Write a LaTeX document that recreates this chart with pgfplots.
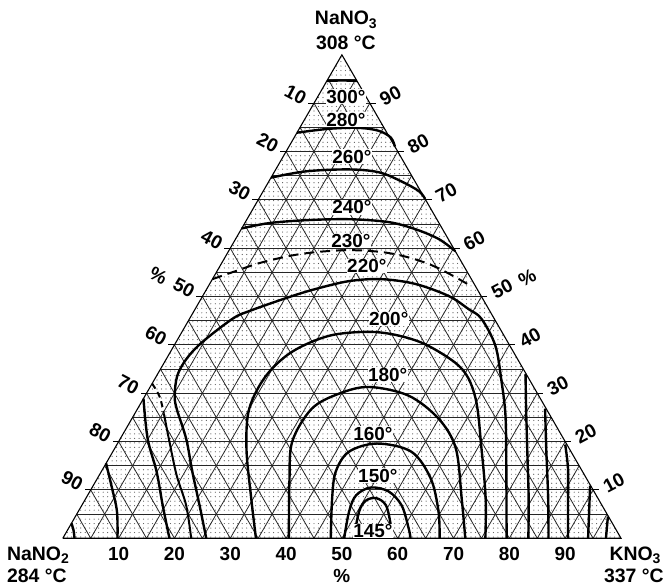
\documentclass[border=0pt]{standalone}
\usepackage{fontspec}
\setmainfont{Liberation Sans}
\usepackage{pgfplots}
\pgfplotsset{compat=1.18}
\usepackage{pgfplotstable}
\usetikzlibrary{patterns.meta}

\tikzdeclarepattern{
  name=stipple,
  type=uncolored,
  bounding box={(-2.25pt,-2.25pt) and (2.25pt,2.25pt)},
  tile size={(4.5pt,4.5pt)},
  code={\fill (0pt,0pt) circle (0.6pt);}
}

\newcommand\lab{\fontsize{19}{20}\selectfont\bfseries}
\newcommand\ilab{\fontsize{19}{20}\selectfont\bfseries}
\newcommand\vlab{\fontsize{19.5}{21}\selectfont\bfseries}
\newcommand\sub[1]{\raisebox{-0.35ex}{\fontsize{14}{14}\selectfont #1}}

% compositions: K = % KNO3, N = % NaNO3 (NaNO2 = 100 - K - N)
\pgfplotstableread[row sep=\\]{K N\\ 0 0\\ 100 0\\ 0 100\\ 0 0\\}\tri
\pgfplotstableread[row sep=\\]{K N\\ 0 94.6\\ 2.7 94.7\\ 5.4 94.6\\}\tA
\pgfplotstableread[row sep=\\]{K N\\ 0 83.9\\ 5.3 84.7\\ 10.5 84.9\\ 14.4 84.3\\ 17.3 82.9\\ 19.0 81.0\\}\tB
\pgfplotstableread[row sep=\\]{K N\\ 0 74.6\\ 5.6 75.9\\ 13.1 76.3\\ 18.8 75.7\\ 23.8 73.8\\ 27.9 71.8\\ 29.8 70.2\\}\tC
\pgfplotstableread[row sep=\\]{K N\\ 0 64.1\\ 4.4 65.2\\ 10.7 65.8\\ 18.3 66.0\\ 25.7 65.4\\ 31.3 63.9\\ 36.4 61.9\\ 40.6 59.4\\}\tD
\pgfplotstableread[row sep=\\]{K N\\ 0 53.6\\ 3.4 55.3\\ 6.7 56.9\\ 11.4 58.4\\ 15.8 59.2\\ 21.5 59.6\\ 27.6 59.2\\ 32.9 58.1\\ 37.8 56.5\\ 42.1 54.6\\ 47.0 52.2\\}\tE
\pgfplotstableread[row sep=\\]{K N\\ 25.7 0\\ 21.1 6.8\\ 16.3 13.8\\ 11.8 20.6\\ 7.0 26.8\\ 5.3 29.5\\ 3.7 33.6\\ 3.6 37.1\\ 4.7 40.6\\ 7.7 45.4\\ 9.9 47.0\\ 15.6 49.9\\ 19.6 51.6\\ 24.7 53.2\\ 30.3 53.6\\ 36.9 52.6\\ 44.1 50.1\\ 49.0 47.4\\ 52.3 45.4\\ 57.6 39.8\\ 62.4 32.4\\ 66.6 25.4\\ 71.9 15.1\\ 79.5 0\\}\tF
\pgfplotstableread[row sep=\\]{K N\\ 34.6 0\\ 29.6 8.3\\ 23.6 18.6\\ 20.0 26.8\\ 19.6 33.6\\ 21.8 38.6\\ 26.8 41.9\\ 33.5 42.7\\ 39.3 41.9\\ 45.6 39.8\\ 53.9 35.1\\ 59.5 28.9\\ 65.7 18.6\\ 71.6 8.3\\ 75.7 0\\}\tG
\pgfplotstableread[row sep=\\]{K N\\ 40.5 0\\ 34.7 11.8\\ 31.1 20.0\\ 31.2 26.8\\ 34.5 29.9\\ 39.2 31.3\\ 47.2 29.5\\ 55.0 24.7\\ 61.1 18.6\\ 67.3 8.3\\ 72.1 0\\}\tH
\pgfplotstableread[row sep=\\]{K N\\ 48.0 0\\ 44.1 8.3\\ 42.0 13.8\\ 42.3 17.9\\ 46.5 19.6\\ 53.5 17.9\\ 59.7 12.4\\ 64.5 5.6\\ 67.5 0\\}\tI
\pgfplotstableread[row sep=\\]{K N\\ 50.4 0\\ 48.5 5.6\\ 48.1 8.9\\ 49.9 10.5\\ 53.5 9.7\\ 57.3 6.8\\ 60.9 2.1\\ 62.3 0\\}\tJ
\pgfplotstableread[row sep=\\]{K N\\ 52.1 0\\ 50.3 5.6\\ 50.4 7.8\\ 52.0 8.3\\ 54.5 6.8\\ 57.4 2.7\\ 58.9 0\\}\tK
\pgfplotstableread[row sep=\\]{K N\\ 0 3.1\\ 1.1 1.65\\ 2.1 0\\}\tLa
\pgfplotstableread[row sep=\\]{K N\\ 0 15.5\\ 3.4 10.7\\ 6.9 5.6\\ 9.8 0\\}\tLb
\pgfplotstableread[row sep=\\]{K N\\ 0 28.9\\ 4.9 20.6\\ 9.9 13.8\\ 14.5 6.8\\ 19.1 0\\}\tLc
\pgfplotstableread[row sep=\\]{K N\\ 0 32.0\\ 2.7 29.3\\ 5.2 25.8\\}\tLd
\pgfplotstableread[row sep=\\]{K N\\ 5.2 25.8\\ 9.1 20.0\\ 13.9 13.0\\ 18.7 6.8\\ 23.0 0\\}\tLe
\pgfplotstableread[row sep=\\]{K N\\ 65.9 34.0\\ 69.6 26.8\\ 75.0 16.5\\ 79.3 8.3\\ 83.4 0\\}\tRa
\pgfplotstableread[row sep=\\]{K N\\ 73.0 26.8\\ 77.3 18.6\\ 82.8 8.3\\ 87.0 0\\}\tRb
\pgfplotstableread[row sep=\\]{K N\\ 80.3 19.4\\ 83.3 14.4\\ 86.9 7.2\\ 90.5 0\\}\tRc
\pgfplotstableread[row sep=\\]{K N\\ 89.0 10.9\\ 91.4 5.8\\ 94.1 0\\}\tRd
\pgfplotstableread[row sep=\\]{K N\\ 95.4 4.5\\ 97.3 0\\}\tRe

\newcommand\iso[2][]{\addplot[black, line width=2.4pt, smooth, tension=0.55, no markers, #1]
  table[x expr=\thisrow{K}+0.5*\thisrow{N}, y expr=0.8660254*\thisrow{N}] {#2};}

\begin{document}
\begin{tikzpicture}
\begin{axis}[
  x=5.6pt, y=5.6pt,
  xmin=-11.25, xmax=107.86, ymin=-8.21, ymax=96.43,
  hide axis, clip=false,
]
\path (axis cs:-11.25,-8.21) rectangle (axis cs:107.86,96.43);
% stippled triangle
\addplot[draw=none, pattern=stipple, pattern color=black!65]
  table[x expr=\thisrow{K}+0.5*\thisrow{N}, y expr=0.8660254*\thisrow{N}] {\tri};
% grid at 5 %
\pgfplotsinvokeforeach{5,10,...,95}{
  \draw[black!85, line width=0.9pt] (axis cs:{#1/2},{0.8660254*#1}) -- (axis cs:{100-#1/2},{0.8660254*#1});
  \draw[black!85, line width=0.8pt] (axis cs:#1,0) -- (axis cs:{50+#1/2},{86.60254-0.8660254*#1});
  \draw[black!85, line width=0.8pt] (axis cs:{100-#1},0) -- (axis cs:{(100-#1)/2},{0.8660254*(100-#1)});
}
\addplot[black, line width=1.1pt, no markers]
  table[x expr=\thisrow{K}+0.5*\thisrow{N}, y expr=0.8660254*\thisrow{N}] {\tri};
% ticks and tick labels
\pgfplotsinvokeforeach{10,20,...,90}{
  \draw[black, line width=1pt] (axis cs:{(100-#1)/2},{0.8660254*(100-#1)}) -- ++(-6pt,0pt);
  \node[rotate=-28, font=\lab] at (axis cs:{(100-#1)/2-3.3},{0.8660254*(100-#1)+1.6}) {#1};
  \draw[black, line width=1pt] (axis cs:{100-#1/2},{0.8660254*#1}) -- ++(6pt,0pt);
  \node[rotate=28, font=\lab] at (axis cs:{100-#1/2+3.7},{0.8660254*#1+1.34}) {#1};
  \node[font=\lab] at (axis cs:#1,-2.9) {#1};
}
% isotherms
\iso{\tA}
\iso{\tB}
\iso{\tC}
\iso{\tD}
\iso[dash pattern=on 10pt off 6pt, line width=2pt]{\tE}
\iso{\tF}
\iso{\tG}
\iso{\tH}
\iso{\tI}
\iso{\tJ}
\iso{\tK}
\iso{\tLa}
\iso{\tLb}
\iso{\tLc}
\iso[dash pattern=on 6pt off 4pt, line width=2pt]{\tLd}
\iso[line width=2pt]{\tLe}
\iso{\tRa}
\iso{\tRb}
\iso{\tRc}
\iso{\tRd}
\iso{\tRe}
% isotherm labels
\tikzset{tl/.style={font=\ilab, fill=white, inner sep=0.5pt}}
\node[tl] at (axis cs:50.71,79.11) {300°};
\node[tl] at (axis cs:50.71,75.0) {280°};
\node[tl] at (axis cs:51.79,68.39) {260°};
\node[tl] at (axis cs:51.79,59.29) {240°};
\node[tl] at (axis cs:51.61,53.21) {230°};
\node[tl] at (axis cs:54.46,48.75) {220°};
\node[tl] at (axis cs:58.39,39.29) {200°};
\node[tl] at (axis cs:58.21,29.29) {180°};
\node[tl] at (axis cs:55.54,18.75) {160°};
\node[tl] at (axis cs:56.43,11.25) {150°};
\node[tl] at (axis cs:55.54,1.25) {145°};
% vertex labels
\node[font=\vlab] at (axis cs:50.71,92.86) {NaNO\sub{3}};
\node[font=\vlab] at (axis cs:50.71,88.75) {308 °C};
\node[font=\vlab] at (axis cs:-4.46,-3.04) {NaNO\sub{2}};
\node[font=\vlab] at (axis cs:-4.64,-6.79) {284 °C};
\node[font=\vlab] at (axis cs:102.5,-3.04) {KNO\sub{3}};
\node[font=\vlab] at (axis cs:102.3,-6.79) {337 °C};
\node[font=\lab] at (axis cs:50,-6.79) {\%};
\node[font=\lab, rotate=-28] at (axis cs:17.14,46.96) {\%};
\node[font=\lab, rotate=28] at (axis cs:83.21,46.6) {\%};
\end{axis}
\end{tikzpicture}
\end{document}
